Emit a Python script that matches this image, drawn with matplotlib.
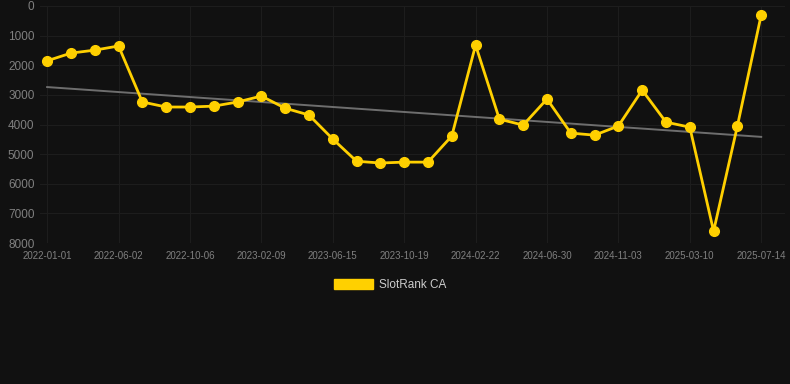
import numpy as np
import matplotlib
matplotlib.use("Agg")
import matplotlib.pyplot as plt
from matplotlib.patches import Patch

# === Data (rank per snapshot) ===
tick_labels = ["2022-01-01", "2022-06-02", "2022-10-06", "2023-02-09", "2023-06-15",
               "2023-10-19", "2024-02-22", "2024-06-30", "2024-11-03", "2025-03-10",
               "2025-07-14"]
rank = [1850, 1590, 1490, 1350, 3240, 3410, 3410, 3380, 3240, 3040,
        3450, 3680, 4490, 5240, 5300, 5270, 5270, 4390, 1320, 3820,
        4020, 3140, 4290, 4360, 4050, 2840, 3920, 4090, 7600, 4050, 300]

x = np.arange(len(rank))
slope, icpt = np.polyfit(x, rank, 1)

plt.rcParams["font.family"] = ["Liberation Sans", "DejaVu Sans"]
bg = "#111111"
fig = plt.figure(figsize=(7.9, 3.84), dpi=100, facecolor=bg)
ax = fig.add_axes([40 / 790, 1 - 243 / 384, 745 / 790, 237 / 384])
ax.set_facecolor(bg)

ax.plot(x, slope * x + icpt, color="#6e6e6e", lw=1.4, zorder=2)
ax.plot(x, rank, color="#FFD000", lw=2.0, marker="o", ms=7, zorder=3)

ax.set_ylim(8000, 0)
ax.set_yticks(np.arange(0, 8001, 1000))
ax.set_xlim(-0.3, 31.0)
ax.set_xticks(x[::3])
ax.set_xticklabels(tick_labels)

ax.grid(True, color="#1d1d1d", lw=0.8)
for s in ax.spines.values():
    s.set_visible(False)
ax.tick_params(length=0, colors="#808080")
ax.tick_params(axis="y", labelsize=8.5, pad=4)
ax.tick_params(axis="x", labelsize=7, pad=6)

fig.legend(handles=[Patch(color="#FFD000", label="SlotRank CA")],
           loc="center", bbox_to_anchor=(390 / 790, 1 - 285 / 384),
           frameon=False, fontsize=8.5, labelcolor="#cccccc",
           handlelength=3.3, handleheight=1.0, handletextpad=0.5)

fig.savefig("out.png", dpi=100, facecolor=bg)
